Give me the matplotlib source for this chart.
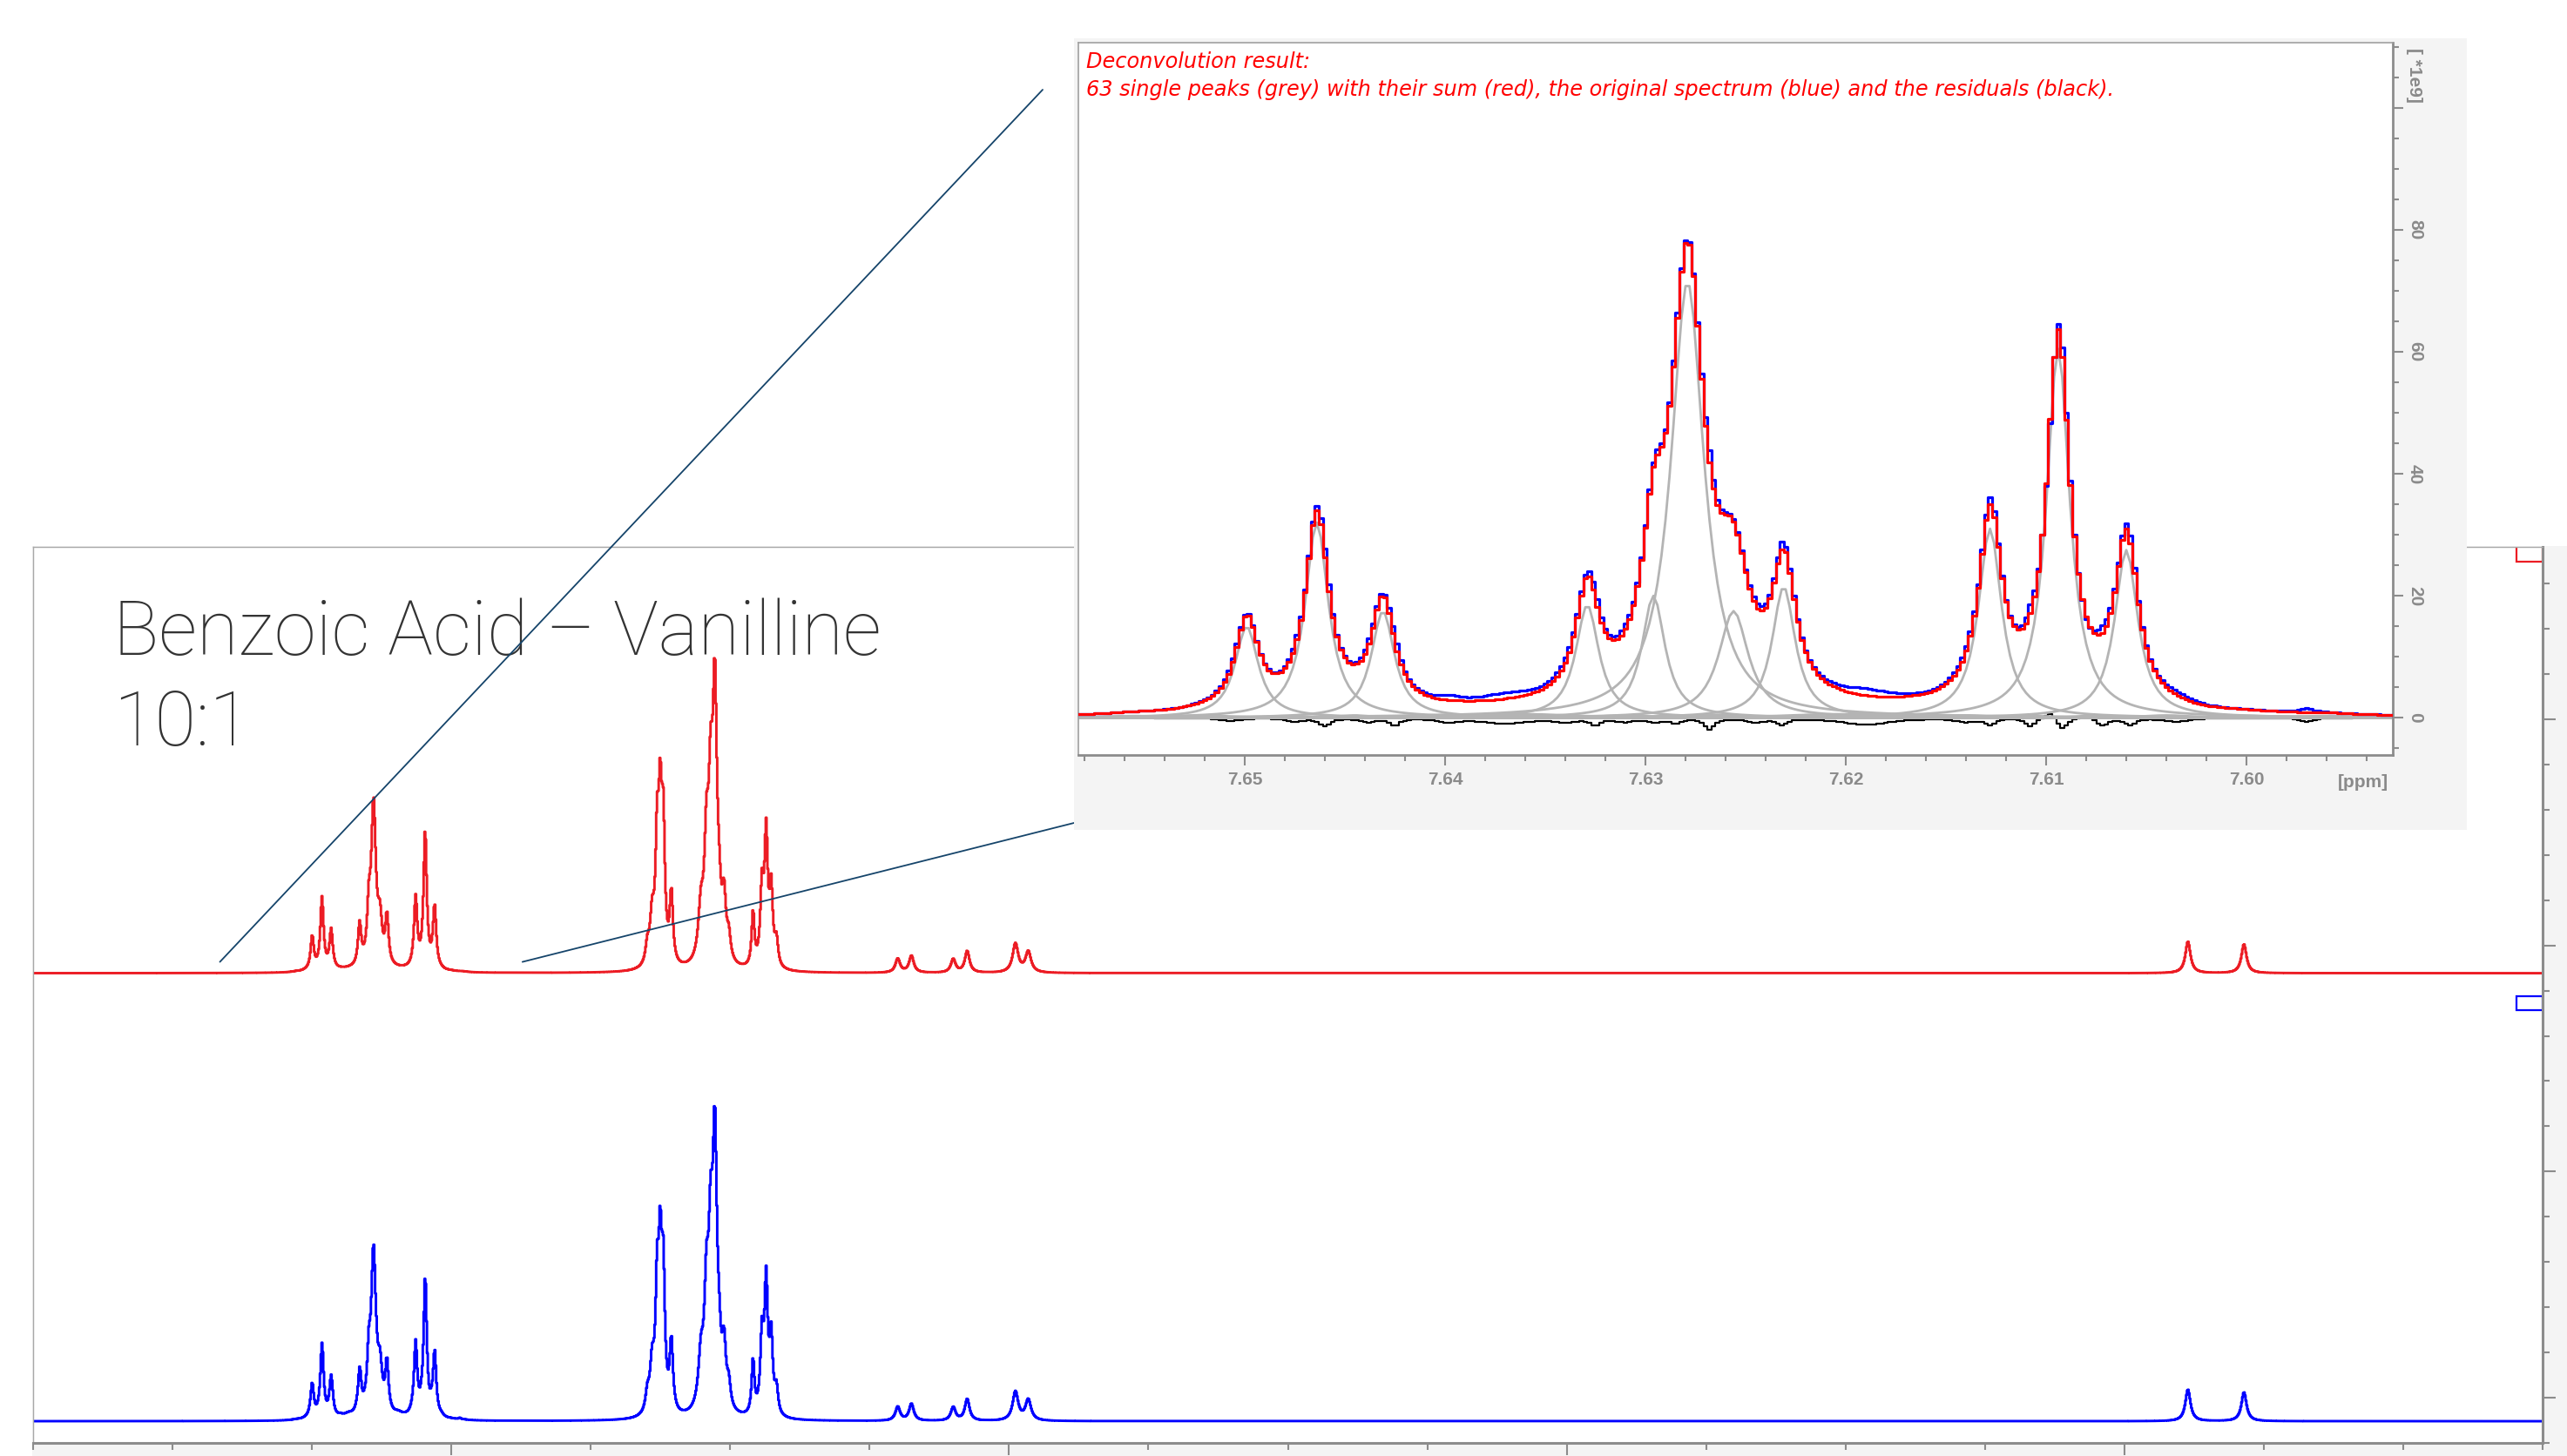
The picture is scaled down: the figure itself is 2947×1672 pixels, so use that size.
import numpy as np
import matplotlib.pyplot as plt
from matplotlib.patches import Rectangle, ConnectionPatch

# --- deconvolution (inset), heights in [*1e9], positions/widths in ppm ---
fit_ppm = [7.6499, 7.6464, 7.6431, 7.6329, 7.6296, 7.6279, 7.6256, 7.6231, 7.6128, 7.6094, 7.6060]
fit_height = [15.0, 32.0, 17.5, 18.5, 20.0, 71.5, 17.5, 21.5, 31.0, 60.5, 27.5]
fit_hwhm = [0.0007, 0.0007, 0.0007, 0.0007, 0.0007, 0.0010, 0.0009, 0.0007, 0.0007, 0.0007, 0.0007]

# the many small lines near the baseline
base_ppm = [7.6555, 7.6520, 7.6480, 7.6445, 7.6395, 7.6360, 7.6310, 7.6265,
            7.6205, 7.6170, 7.6140, 7.6110, 7.6075, 7.6040, 7.6000, 7.5960]
base_height = [0.3, 0.4, 0.3, 0.4, 0.5, 0.6, 0.4, 0.5, 0.6, 0.5, 0.4, 0.4, 0.4, 0.4, 0.3, 0.3]
base_hwhm = [0.002, 0.0015, 0.001, 0.001, 0.003, 0.003, 0.0015, 0.0015,
             0.003, 0.003, 0.0015, 0.001, 0.001, 0.0015, 0.002, 0.002]

# residuals (sum - original)
res_ppm = [7.6507, 7.6475, 7.6460, 7.6438, 7.6425, 7.6398, 7.6370, 7.6340, 7.6325,
           7.6310, 7.6295, 7.6285, 7.6268, 7.6245, 7.6232, 7.6190, 7.6140, 7.6128,
           7.6108, 7.6098, 7.6092, 7.6080, 7.6072, 7.6058, 7.6035, 7.5970]
res_amp = [-0.5, -0.6, -1.3, -0.6, -1.1, -0.6, -0.9, -0.6, -1.1,
           -0.6, -0.6, -0.8, -1.8, -0.6, -1.0, -1.1, -0.6, -1.0,
           -1.3, 1.2, -1.8, 0.8, -1.2, -1.1, -0.6, -0.6]
res_hwhm = [0.0006, 0.0005, 0.0003, 0.0005, 0.0003, 0.0006, 0.0015, 0.0006, 0.0003,
            0.0005, 0.0004, 0.0003, 0.0003, 0.0006, 0.0003, 0.0015, 0.0006, 0.0003,
            0.0003, 0.0003, 0.0003, 0.0003, 0.0004, 0.0003, 0.0008, 0.0004]

# --- rest of the full spectrum (benzoic acid meta-H multiplet) ---
meta_ppm = [7.5297, 7.5280, 7.5262, 7.5251, 7.5240, 7.5211,
            7.5105, 7.5085, 7.5070, 7.5055, 7.5040, 7.5022, 7.5005,
            7.4918, 7.4886, 7.4871, 7.4853, 7.4834]
meta_height = [8.0, 20.0, 50.0, 62.0, 56.0, 31.0,
               22.0, 46.0, 63.0, 113.0, 17.0, 25.0, 10.0,
               24.0, 33.0, 57.0, 33.0, 11.0]
meta_hwhm = [0.0008, 0.0009, 0.0007, 0.0007, 0.0007, 0.0007,
             0.0011, 0.0009, 0.0009, 0.0009, 0.0009, 0.0008, 0.0008,
             0.0006, 0.0007, 0.0007, 0.0007, 0.0007]

# vanillin lines
van_ppm = [7.4399, 7.4350, 7.4200, 7.4150, 7.3977, 7.3931, 6.9772, 6.9571]
van_height = [6.2, 7.5, 6.0, 9.6, 12.8, 9.2, 14.0, 12.8]
van_hwhm = [0.0010, 0.0010, 0.0010, 0.0010, 0.0012, 0.0012, 0.0011, 0.0011]

red_offset = 187.7
blue_offset = -10.4


def lorentz(x, p, h, w):
    return h / (1.0 + ((x - p) / w) ** 2)


def peak_sum(x, ppm, height, hwhm):
    y = np.zeros_like(x)
    for p, h, w in zip(ppm, height, hwhm):
        y += lorentz(x, p, h, w)
    return y


fig = plt.figure(figsize=(29.47, 16.72), dpi=100)
W, H = 2947.0, 1672.0

# grey panel of the main view
fig.add_artist(Rectangle((37 / W, 0), 1 - 37 / W, (H - 627) / H, transform=fig.transFigure,
                         facecolor='#f4f4f4', edgecolor='none', zorder=0.5))

ax = fig.add_axes([38 / W, (H - 1657) / H, 2881 / W, 1029 / H], zorder=1)
ax.set_facecolor('white')

xm = np.arange(6.840, 7.750, 0.0003)
spec = (peak_sum(xm, fit_ppm, fit_height, fit_hwhm) + peak_sum(xm, base_ppm, base_height, base_hwhm)
        + peak_sum(xm, meta_ppm, meta_height, meta_hwhm) + peak_sum(xm, van_ppm, van_height, van_hwhm))
orig = spec - peak_sum(xm, res_ppm, res_amp, res_hwhm)

ax.plot(xm, orig + blue_offset, color='#0000ff', lw=2.1, drawstyle='steps-mid')
ax.plot(xm, spec + red_offset, color='#ec1c24', lw=2.1, drawstyle='steps-mid')
ax.set_xlim(7.7462, 6.8501)
ax.set_ylim(-19.6, 376.2)

for s in ['top', 'left']:
    ax.spines[s].set_color('#a8a8a8')
    ax.spines[s].set_linewidth(1.0)
for s in ['right', 'bottom']:
    ax.spines[s].set_color('#8c8c8c')
    ax.spines[s].set_linewidth(2.2)
ax.yaxis.tick_right()
ax.set_xticks(np.arange(7.0, 7.75, 0.2))
ax.set_xticks(np.arange(6.85, 7.75, 0.05), minor=True)
ax.set_yticks([0, 100, 200, 300])
ax.set_yticks(np.arange(-20, 380, 20), minor=True)
ax.tick_params(which='both', direction='out', color='#8c8c8c', width=1.5,
               labelbottom=False, labelright=False)
ax.tick_params(which='major', length=10)
ax.tick_params(which='minor', length=6)
ax.tick_params(axis='y', which='major', length=11)

# spectrum handles at the right edge
ax.add_patch(Rectangle((0.9896, 0.9835), 0.0104, 0.03, transform=ax.transAxes,
                       facecolor='white', edgecolor='#ec1c24', lw=1.6, clip_on=True))
ax.add_patch(Rectangle((0.9896, 0.4830), 0.0104, 0.0156, transform=ax.transAxes,
                       facecolor='white', edgecolor='#0000ff', lw=1.6, clip_on=False))

ax.text(0.0319, 0.8795, 'Benzoic Acid \u2013 Vanilline', transform=ax.transAxes,
        family='Roboto', fontweight='light', fontsize=62.5, color='#333333', va='baseline')
ax.text(0.0319, 0.7784, '10:1', transform=ax.transAxes,
        family='Roboto', fontweight='light', fontsize=62.5, color='#333333', va='baseline')

# zoom lines
for x_start, x_end, y_end in [(7.6830, 1197, H - 103), (7.5745, 1233, H - 945)]:
    con = ConnectionPatch(xyA=(x_start, 192.7), coordsA='data', axesA=ax,
                          xyB=(x_end, y_end), coordsB='figure pixels',
                          color='#15446a', lw=1.3, zorder=2)
    fig.add_artist(con)

# inset panel
fig.add_artist(Rectangle((1233 / W, (H - 953) / H), 1599 / W, 909 / H, transform=fig.transFigure,
                         facecolor='#f4f4f4', edgecolor='none', zorder=3))
ai = fig.add_axes([1238 / W, (H - 867) / H, 1509 / W, 818 / H], zorder=4)
ai.set_facecolor('white')

xi = np.arange(7.5900, 7.6600, 0.0002)
fit_sum = peak_sum(xi, fit_ppm, fit_height, fit_hwhm) + peak_sum(xi, base_ppm, base_height, base_hwhm)
resid = peak_sum(xi, res_ppm, res_amp, res_hwhm)

ai.plot(xi, resid, color='black', lw=1.6, drawstyle='steps-mid', zorder=1)
for p, h, w in zip(base_ppm + fit_ppm, base_height + fit_height, base_hwhm + fit_hwhm):
    ai.plot(xi, lorentz(xi, p, h, w), color='#b4b4b4', lw=2.0, zorder=2)
ai.plot(xi, fit_sum - resid, color='#0000ff', lw=2.3, drawstyle='steps-mid', zorder=3)
ai.plot(xi, fit_sum, color='#ff0000', lw=2.3, drawstyle='steps-mid', zorder=4)

ai.set_xlim(7.6583, 7.5927)
ai.set_ylim(-6.1, 110.7)
for s in ['top', 'left']:
    ai.spines[s].set_color('#a0a0a0')
    ai.spines[s].set_linewidth(1.2)
for s in ['right', 'bottom']:
    ai.spines[s].set_color('#8c8c8c')
    ai.spines[s].set_linewidth(2.0)
ai.yaxis.tick_right()
xt = [7.60, 7.61, 7.62, 7.63, 7.64, 7.65]
ai.set_xticks(xt, ['%.2f' % v for v in xt], fontfamily='Liberation Sans', fontweight='bold')
ai.set_xticks(np.arange(7.594, 7.659, 0.002), minor=True)
ai.set_yticks([0, 20, 40, 60, 80, 100], ['0', '20', '40', '60', '80', ''],
              fontfamily='Liberation Sans', fontweight='bold', rotation=-90, va='center')
ai.set_yticks(np.arange(-5, 111, 5), minor=True)
ai.tick_params(which='both', direction='out', color='#8c8c8c', width=1.5,
               labelcolor='#8a8a8a', labelsize=15)
ai.tick_params(which='major', length=8.5)
ai.tick_params(which='minor', length=5)
ai.tick_params(axis='x', which='major', pad=5)
ai.tick_params(axis='y', which='major', pad=3)

ai.annotate('[ppm]', xy=(7.5942, 0), xycoords=('data', 'axes fraction'),
            xytext=(0, -31), textcoords='offset pixels', ha='center', va='center',
            family='Liberation Sans', fontweight='bold', fontsize=15, color='#8a8a8a',
            annotation_clip=False)
ai.annotate('[ *1e9]', xy=(1, 105.3), xycoords=('axes fraction', 'data'),
            xytext=(24, 0), textcoords='offset pixels', ha='center', va='center', rotation=-90,
            family='Liberation Sans', fontweight='bold', fontsize=15, color='#8a8a8a',
            annotation_clip=False)

ai.text(0.006, 0.9645, 'Deconvolution result:', transform=ai.transAxes,
        family='DejaVu Sans', style='italic', fontsize=17.3, color='#ff0000', va='baseline')
ai.text(0.006, 0.9254, '63 single peaks (grey) with their sum (red), the original spectrum (blue) '
        'and the residuals (black).', transform=ai.transAxes,
        family='DejaVu Sans', style='italic', fontsize=17.3, color='#ff0000', va='baseline')

fig.savefig('out.png', dpi=100)
